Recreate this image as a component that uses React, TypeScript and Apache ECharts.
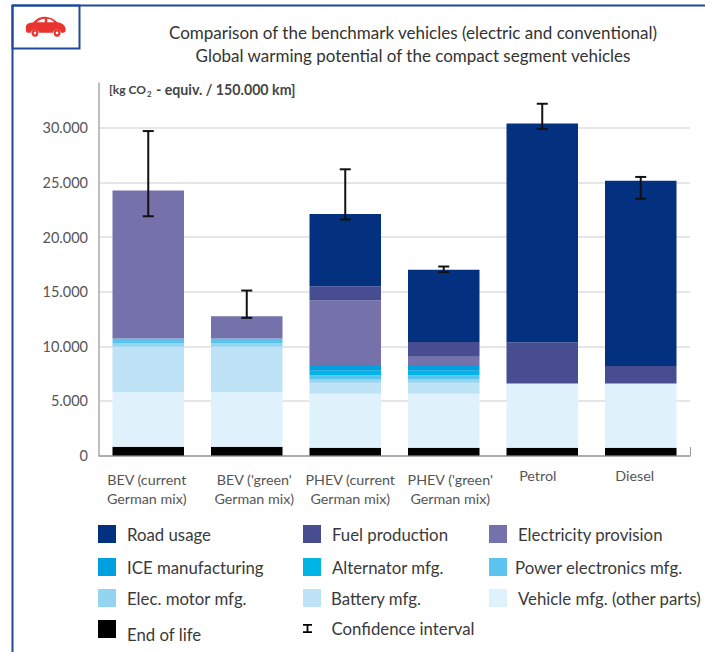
import React, { useEffect, useRef } from "react";
import * as echarts from "echarts";

const categories = [
  { value: "BEV (current\nGerman mix)", textStyle: { padding: [4, 3, 0, 0] } },
  { value: "BEV ('green'\nGerman mix)", textStyle: { padding: [4, 0, 0, 15] } },
  { value: "PHEV (current\nGerman mix)", textStyle: { padding: [4, 0, 0, 10] } },
  { value: "PHEV ('green'\nGerman mix)", textStyle: { padding: [4, 0, 0, 13] } },
  { value: "Petrol", textStyle: { padding: [0, 9, 0, 0] } },
  { value: "Diesel", textStyle: { padding: [0, 12, 0, 0] } },
];
const endOfLife = [800, 800, 700, 700, 700, 700];
const vehicleMfg = [5000, 5000, 4950, 4950, 5900, 5900];
const batteryMfg = [4150, 4150, 1000, 1000, 0, 0];
const motorMfg = [350, 350, 350, 350, 0, 0];
const powerElecMfg = [400, 400, 350, 350, 0, 0];
const alternatorMfg = [0, 0, 400, 400, 0, 0];
const iceMfg = [0, 0, 450, 450, 0, 0];
const electricity = [13550, 2050, 6000, 850, 0, 0];
const fuelProduction = [0, 0, 1300, 1350, 3750, 1600];
const roadUsage = [0, 0, 6600, 6600, 20050, 16950];
const ciLow = [21900, 12600, 21600, 16800, 29900, 23500];
const ciHigh = [29700, 15100, 26200, 17300, 32200, 25500];
const yTicks = [0, 5000, 10000, 15000, 20000, 25000, 30000];

const layers: [string, number[], string][] = [
  ["End of life", endOfLife, "#000000"],
  ["Vehicle mfg. (other parts)", vehicleMfg, "#DFF1FB"],
  ["Battery mfg.", batteryMfg, "#BEE3F7"],
  ["Elec. motor mfg.", motorMfg, "#93D4F1"],
  ["Power electronics mfg.", powerElecMfg, "#5CC3EE"],
  ["Alternator mfg.", alternatorMfg, "#00B4E6"],
  ["ICE manufacturing", iceMfg, "#009FE0"],
  ["Electricity provision", electricity, "#7471AB"],
  ["Fuel production", fuelProduction, "#484D92"],
  ["Road usage", roadUsage, "#04317F"],
];

const legendPos: Record<string, [number, number, number, number]> = {
  "Road usage": [98, 525, 6, 0],
  "Fuel production": [303, 525, 6, 0],
  "Electricity provision": [489, 525, 6, 0],
  "ICE manufacturing": [98, 558, 6, 0],
  "Alternator mfg.": [303, 558, 6, 0],
  "Power electronics mfg.": [489, 558, 3, 0],
  "Elec. motor mfg.": [98, 589, 6, 0],
  "Battery mfg.": [303, 589, 5, 0],
  "Vehicle mfg. (other parts)": [489, 589, 6, 0],
  "End of life": [98, 620, 6, 10],
  "Confidence interval": [303, 620, 12, 0],
};

const carPath =
  "M3 22 C2 17 4 14 9 13 L15 12 C20 7 25 4 33 4 C41 4 47 7 53 12 C60 13 65 16 66 21 L66 24 C66 26 65 27 62 27 L59 27 C58 21 47 21 46 27 L24 27 C23 21 12 21 11 27 L6 27 C4 27 3 26 3 22 Z M20 12 L33 12 L33 7 C28 7 24 9 20 12 Z M37 12 L48 12 C45 9 41 7 37 7 Z M17.5 22 A5.5 5.5 0 1 0 17.6 22 Z M17.5 25.5 A2 2 0 1 1 17.4 25.5 Z M52.5 22 A5.5 5.5 0 1 0 52.6 22 Z M52.5 25.5 A2 2 0 1 1 52.4 25.5 Z";
echarts.graphic.registerShape("carIcon", echarts.graphic.extendPath(carPath, {}) as any);

export default function App() {
  const ref = useRef<HTMLDivElement>(null);
  useEffect(() => {
    const chart = echarts.init(ref.current!, undefined, { renderer: "svg" });
    const font = "Lato, sans-serif";
    const legendNames = Object.keys(legendPos);
    const legendText = { color: "#3a3a3a", fontSize: 16.8, fontFamily: font };
    chart.setOption({
      animation: false,
      backgroundColor: "#ffffff",
      textStyle: { fontFamily: font },
      grid: { left: 99, top: 83, width: 591, height: 372.5 },
      xAxis: {
        type: "category",
        data: categories,
        axisTick: { show: false },
        axisLine: { lineStyle: { color: "#999999", width: 1.5 } },
        axisLabel: { color: "#555555", fontSize: 14.3, lineHeight: 19, margin: 10, interval: 0, fontFamily: font },
      },
      yAxis: {
        type: "value",
        min: 0,
        max: 34100,
        interval: 5000,
        axisLine: { show: true, lineStyle: { color: "#aaaaaa", width: 1.5 } },
        axisTick: { show: false },
        splitLine: { showMaxLine: false, lineStyle: { color: "#dedede", width: 1.5 } },
        axisLabel: {
          color: "#555555",
          fontSize: 14.5,
          margin: 11,
          fontFamily: font,
          formatter: (v: number) => (yTicks.includes(v) ? (v === 0 ? "0" : v.toLocaleString("de-DE")) : ""),
        },
      },
      legend: legendNames.map((name) => ({
        data: [
          name === "Confidence interval"
            ? { name, icon: "path://M0 0H10V2H6V8H10V10H0V8H4V2H0Z", itemStyle: { color: "#000" } }
            : { name, icon: "rect" },
        ],
        left: legendPos[name][0],
        top: legendPos[name][1],
        padding: 0,
        itemWidth: name === "Confidence interval" ? 14 : 18,
        itemHeight: name === "Confidence interval" ? 9 : 18,
        itemGap: 0,
        selectedMode: false,
        formatter: "{a|{name}}",
        textStyle: {
          ...legendText,
          rich: { a: { ...legendText, padding: [legendPos[name][3], 0, 0, legendPos[name][2]] } },
        },
      })),
      series: [
        ...layers.map(([name, data, color]) => ({
          name,
          type: "bar",
          stack: "total",
          data,
          barWidth: 71.5,
          itemStyle: { color },
        })),
        {
          name: "Confidence interval",
          type: "custom",
          data: ciLow.map((l, i) => [i, l, ciHigh[i]]),
          encode: { x: 0, y: [1, 2] },
          z: 10,
          itemStyle: { color: "#000" },
          renderItem: (_: any, api: any) => {
            const lo = api.coord([api.value(0), api.value(1)]);
            const hi = api.coord([api.value(0), api.value(2)]);
            const s = { stroke: "#111111", lineWidth: 2 };
            const w = 5.5;
            return {
              type: "group",
              children: [
                { type: "line", shape: { x1: lo[0], y1: lo[1], x2: hi[0], y2: hi[1] }, style: s },
                { type: "line", shape: { x1: lo[0] - w, y1: lo[1], x2: lo[0] + w, y2: lo[1] }, style: s },
                { type: "line", shape: { x1: hi[0] - w, y1: hi[1], x2: hi[0] + w, y2: hi[1] }, style: s },
              ],
            };
          },
        },
      ],
      graphic: [
        { type: "line", shape: { x1: 12.5, y1: 5, x2: 12.5, y2: 652 }, style: { stroke: "#1F4A9C", lineWidth: 2 } },
        { type: "line", shape: { x1: 12, y1: 5.5, x2: 705, y2: 5.5 }, style: { stroke: "#1F4A9C", lineWidth: 2 } },
        { type: "rect", shape: { x: 12.5, y: 5.5, width: 67, height: 43 }, style: { fill: "transparent", stroke: "#1F4A9C", lineWidth: 2 } },
        { type: "carIcon", x: 24, y: 14, scaleX: 0.63, scaleY: 0.69, style: { fill: "#E8332E" } },
        { type: "text", x: 413, y: 32, style: { text: "Comparison of the benchmark vehicles (electric and conventional)", fill: "#333333", font: `17px ${font}`, align: "center", verticalAlign: "middle" } },
        { type: "text", x: 413, y: 55, style: { text: "Global warming potential of the compact segment vehicles", fill: "#333333", font: `17px ${font}`, align: "center", verticalAlign: "middle" } },
        { type: "text", x: 109, y: 89, style: { text: "[kg CO", fill: "#444444", font: `bold 12px ${font}`, verticalAlign: "middle" } },
        { type: "text", x: 147, y: 94, style: { text: "2", fill: "#444444", font: `bold 8px ${font}`, verticalAlign: "middle" } },
        { type: "text", x: 156, y: 89, style: { text: "- equiv. / 150.000 km]", fill: "#444444", font: `bold 14.2px ${font}`, verticalAlign: "middle" } },
        { type: "line", shape: { x1: 690.5, y1: 447, x2: 690.5, y2: 455.5 }, style: { stroke: "#999999", lineWidth: 1 } },
      ],
    });
    return () => chart.dispose();
  }, []);
  return <div ref={ref} style={{ width: 705, height: 652, position: "absolute", left: 0, top: 0 }} />;
}
